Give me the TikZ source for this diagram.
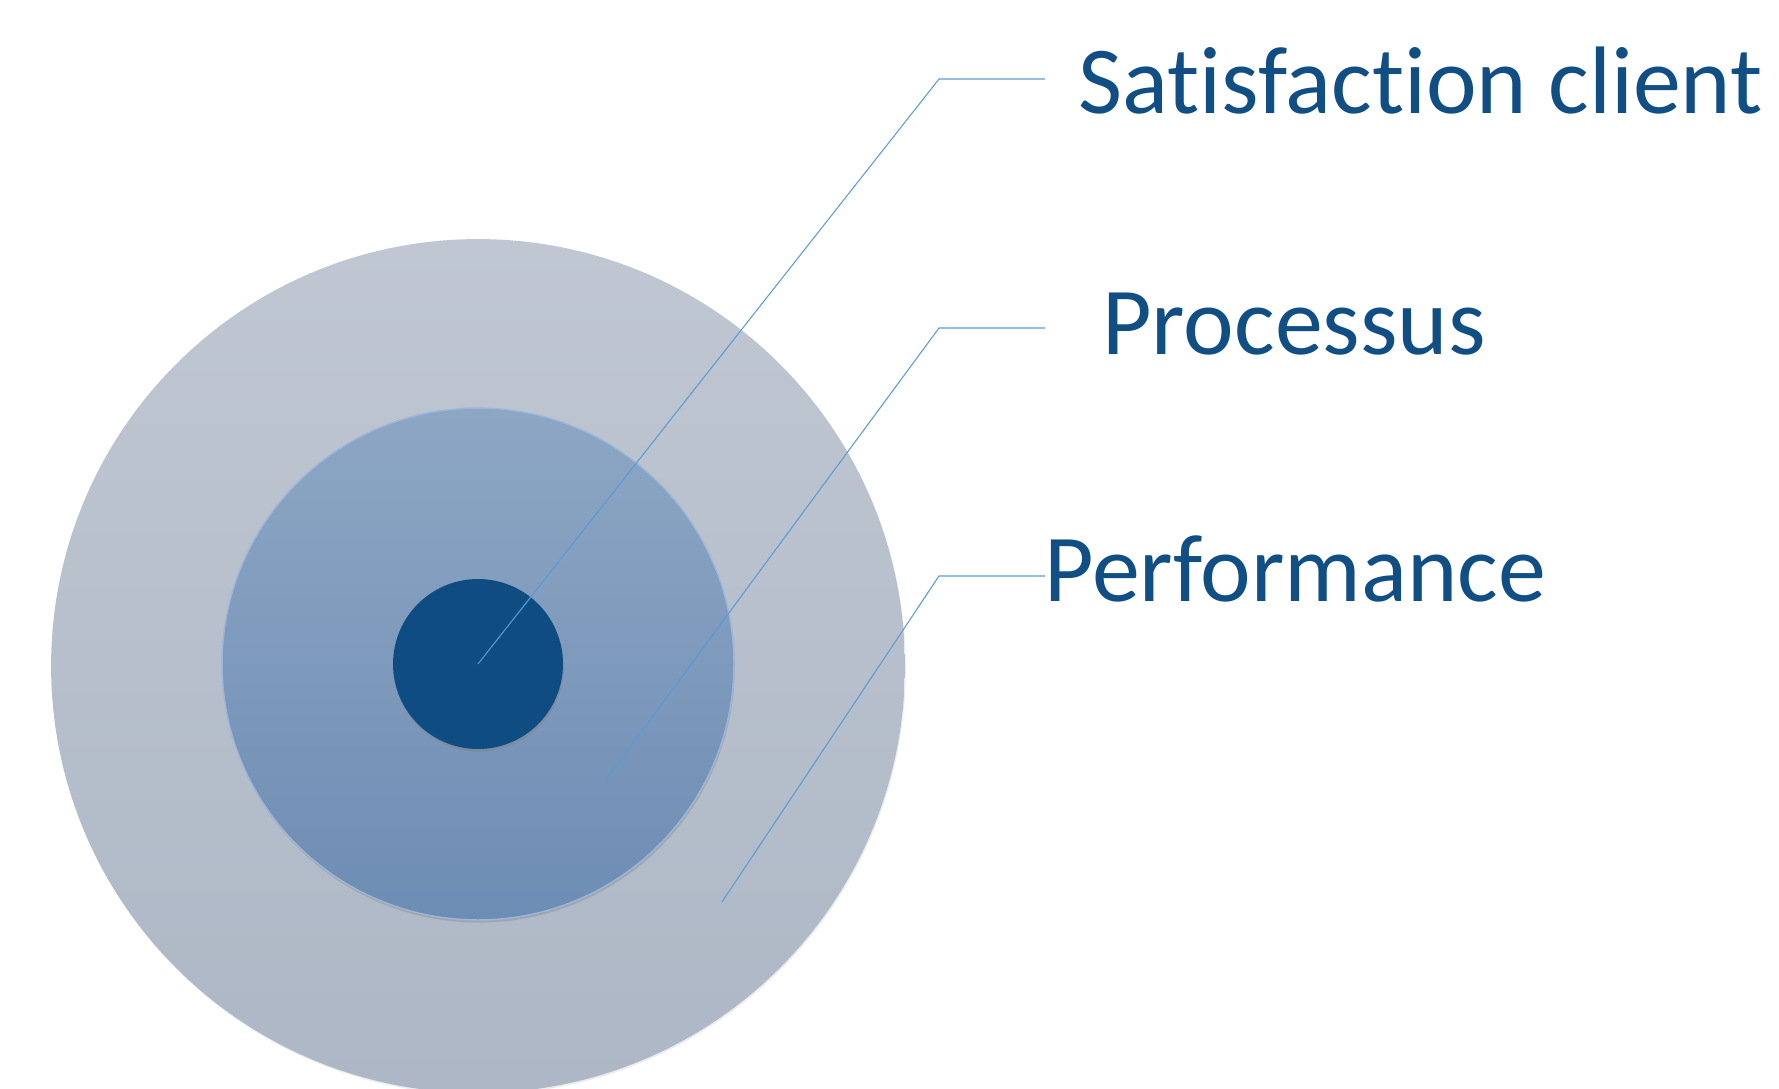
\documentclass[tikz,border=0pt]{standalone}
\usepackage{fontspec}
\setmainfont{Carlito}[Ligatures=NoCommon]
\usepackage{xcolor}
\usetikzlibrary{shadows}

\definecolor{outtop}{HTML}{C0C7D2}
\definecolor{outbot}{HTML}{ADB7C5}
\definecolor{midtop}{HTML}{8DA6C4}
\definecolor{midbot}{HTML}{6E8DB4}
\definecolor{midrim}{HTML}{9DB7DB}
\definecolor{coreblue}{HTML}{0F4C81}
\definecolor{leadblue}{HTML}{5B9BD5}
\definecolor{textblue}{HTML}{114E83}

\tikzset{
  ring/.style={circle, inner sep=0pt, draw=none},
  leader/.style={draw=leadblue, line width=0.6pt},
  lbl/.style={anchor=base west, inner sep=0pt, text=textblue,
    font=\fontsize{54.6}{60}\selectfont}
}

\begin{document}
\begin{tikzpicture}[x=0.02cm,y=-0.02cm]
        \clip (0,0) rectangle (1779,1089);
        \node[ring, minimum size=17.08cm, top color=outtop, bottom color=outbot,
          drop shadow={opacity=0.15, shadow xshift=0.5pt, shadow yshift=-1pt}] (outer) at (478,666) {};
        \node[ring, minimum size=10.24cm, top color=midtop, bottom color=midbot, draw=midrim, line width=0.8pt,
          drop shadow={opacity=0.35, shadow xshift=0.5pt, shadow yshift=-1.5pt}] (mid) at (478,664) {};
        \node[ring, minimum size=3.4cm, fill=coreblue,
          drop shadow={opacity=0.4, shadow xshift=0.5pt, shadow yshift=-1.5pt}] (core) at (478,664) {};
        % leader lines
        \coordinate (s1) at (478,664);
        \coordinate (s2) at (605,781);
        \coordinate (s3) at (722,902);
        \coordinate (k1) at (939,79);
        \coordinate (k2) at (939,328);
        \coordinate (k3) at (939,576);
        \coordinate (e1) at (1045,79);
        \coordinate (e2) at (1045,328);
        \coordinate (e3) at (1045,576);
        \draw[leader] (s1) -- (k1) -- (e1);
        \draw[leader] (s2) -- (k2) -- (e2);
        \draw[leader] (s3) -- (k3) -- (e3);
        \node[lbl] (client) at (1078,113) {Satisfaction client};
        \node[lbl] (proc) at (1102,354) {Processus};
        \node[lbl] (perf) at (1044,601) {Performance};
      \end{tikzpicture}
\end{document}
